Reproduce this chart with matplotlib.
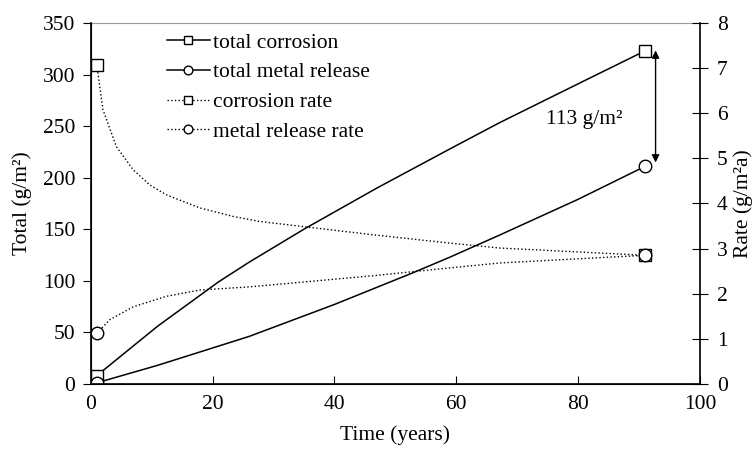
import matplotlib
matplotlib.use("Agg")
import matplotlib.pyplot as plt

# datos
t_corr = [1, 11, 21, 26, 35, 47, 59, 67, 80, 91]
total_corr = [8, 56, 99, 118, 150, 190, 228, 253, 291, 323]

t_rel = [1, 11, 26, 40, 53, 59, 67, 80, 91]
total_rel = [1, 18, 46, 77, 108, 123, 144, 179, 211]

t_rate_corr = [1, 2, 4.2, 7, 9.7, 12.4, 17.9, 23.4, 27.7, 46.6, 58.9, 67.2, 91]
rate_corr = [7.07, 6.08, 5.26, 4.74, 4.41, 4.19, 3.90, 3.71, 3.60, 3.30, 3.12, 3.01, 2.85]

t_rate_rel = [1, 3.1, 7, 12.4, 17.9, 26.1, 46.6, 58.9, 67.2, 91]
rate_rel = [1.12, 1.42, 1.71, 1.94, 2.08, 2.15, 2.40, 2.57, 2.68, 2.85]

plt.rcParams['font.family'] = ['Liberation Serif', 'DejaVu Serif']
plt.rcParams['font.size'] = 15.5

fig = plt.figure(figsize=(7.56, 4.5), dpi=100)
ax = fig.add_axes([0.120, 0.147, 0.806, 0.802])
ax2 = ax.twinx()

l1, = ax.plot(t_corr, total_corr, '-', color='black', lw=1.1, marker='s', markevery=[0, -1],
              ms=9, mfc='white', mec='black', mew=1.0, label='total corrosion')
l2, = ax.plot(t_rel, total_rel, '-', color='black', lw=1.1, marker='o', markevery=[0, -1],
              ms=9, mfc='white', mec='black', mew=1.0, label='total metal release')
l3, = ax2.plot(t_rate_corr, rate_corr, ':', color='black', lw=1.0, marker='s', markevery=[0, -1],
               ms=9, mfc='white', mec='black', mew=1.0, label='corrosion rate')
l4, = ax2.plot(t_rate_rel, rate_rel, ':', color='black', lw=1.0, marker='o', markevery=[0, -1],
               ms=9, mfc='white', mec='black', mew=1.0, label='metal release rate')

ax.set_xlim(0, 100)
ax.set_ylim(0, 350)
ax2.set_ylim(0, 8)
ax.set_xticks([0, 20, 40, 60, 80, 100])
ax.set_yticks(range(0, 351, 50))
ax2.set_yticks(range(0, 9))

ax.set_xlabel('Time (years)', labelpad=8)
ax.set_ylabel('Total (g/m²)', labelpad=8)
ax2.set_ylabel('Rate (g/m²a)', labelpad=4)

ax.tick_params(axis='x', direction='in', length=6, pad=8)
ax.tick_params(axis='y', direction='out', length=6, pad=5)
ax2.tick_params(axis='y', direction='inout', length=12, pad=6)

ax.spines['top'].set_color('#999999')
ax2.spines['top'].set_visible(False)
ax.spines['right'].set_visible(False)
for s in ['left', 'bottom']:
    ax.spines[s].set_linewidth(1.2)
ax2.spines['right'].set_linewidth(1.2)

# flecha de diferencia
ax.annotate('', xy=(92.7, 326), xytext=(92.7, 212),
            arrowprops=dict(arrowstyle='<|-|>', color='black', lw=1.0, mutation_scale=11))
ax.text(81, 256, '113 g/m²', ha='center', va='center', fontsize=15.5)

ax.legend(handles=[l1, l2, l3, l4], loc='upper left', bbox_to_anchor=(0.1, 1.015),
          frameon=False, handlelength=2.0, handletextpad=0.15, labelspacing=0.45,
          markerscale=0.7, borderaxespad=0.3)

fig.savefig('out.png', dpi=100)
